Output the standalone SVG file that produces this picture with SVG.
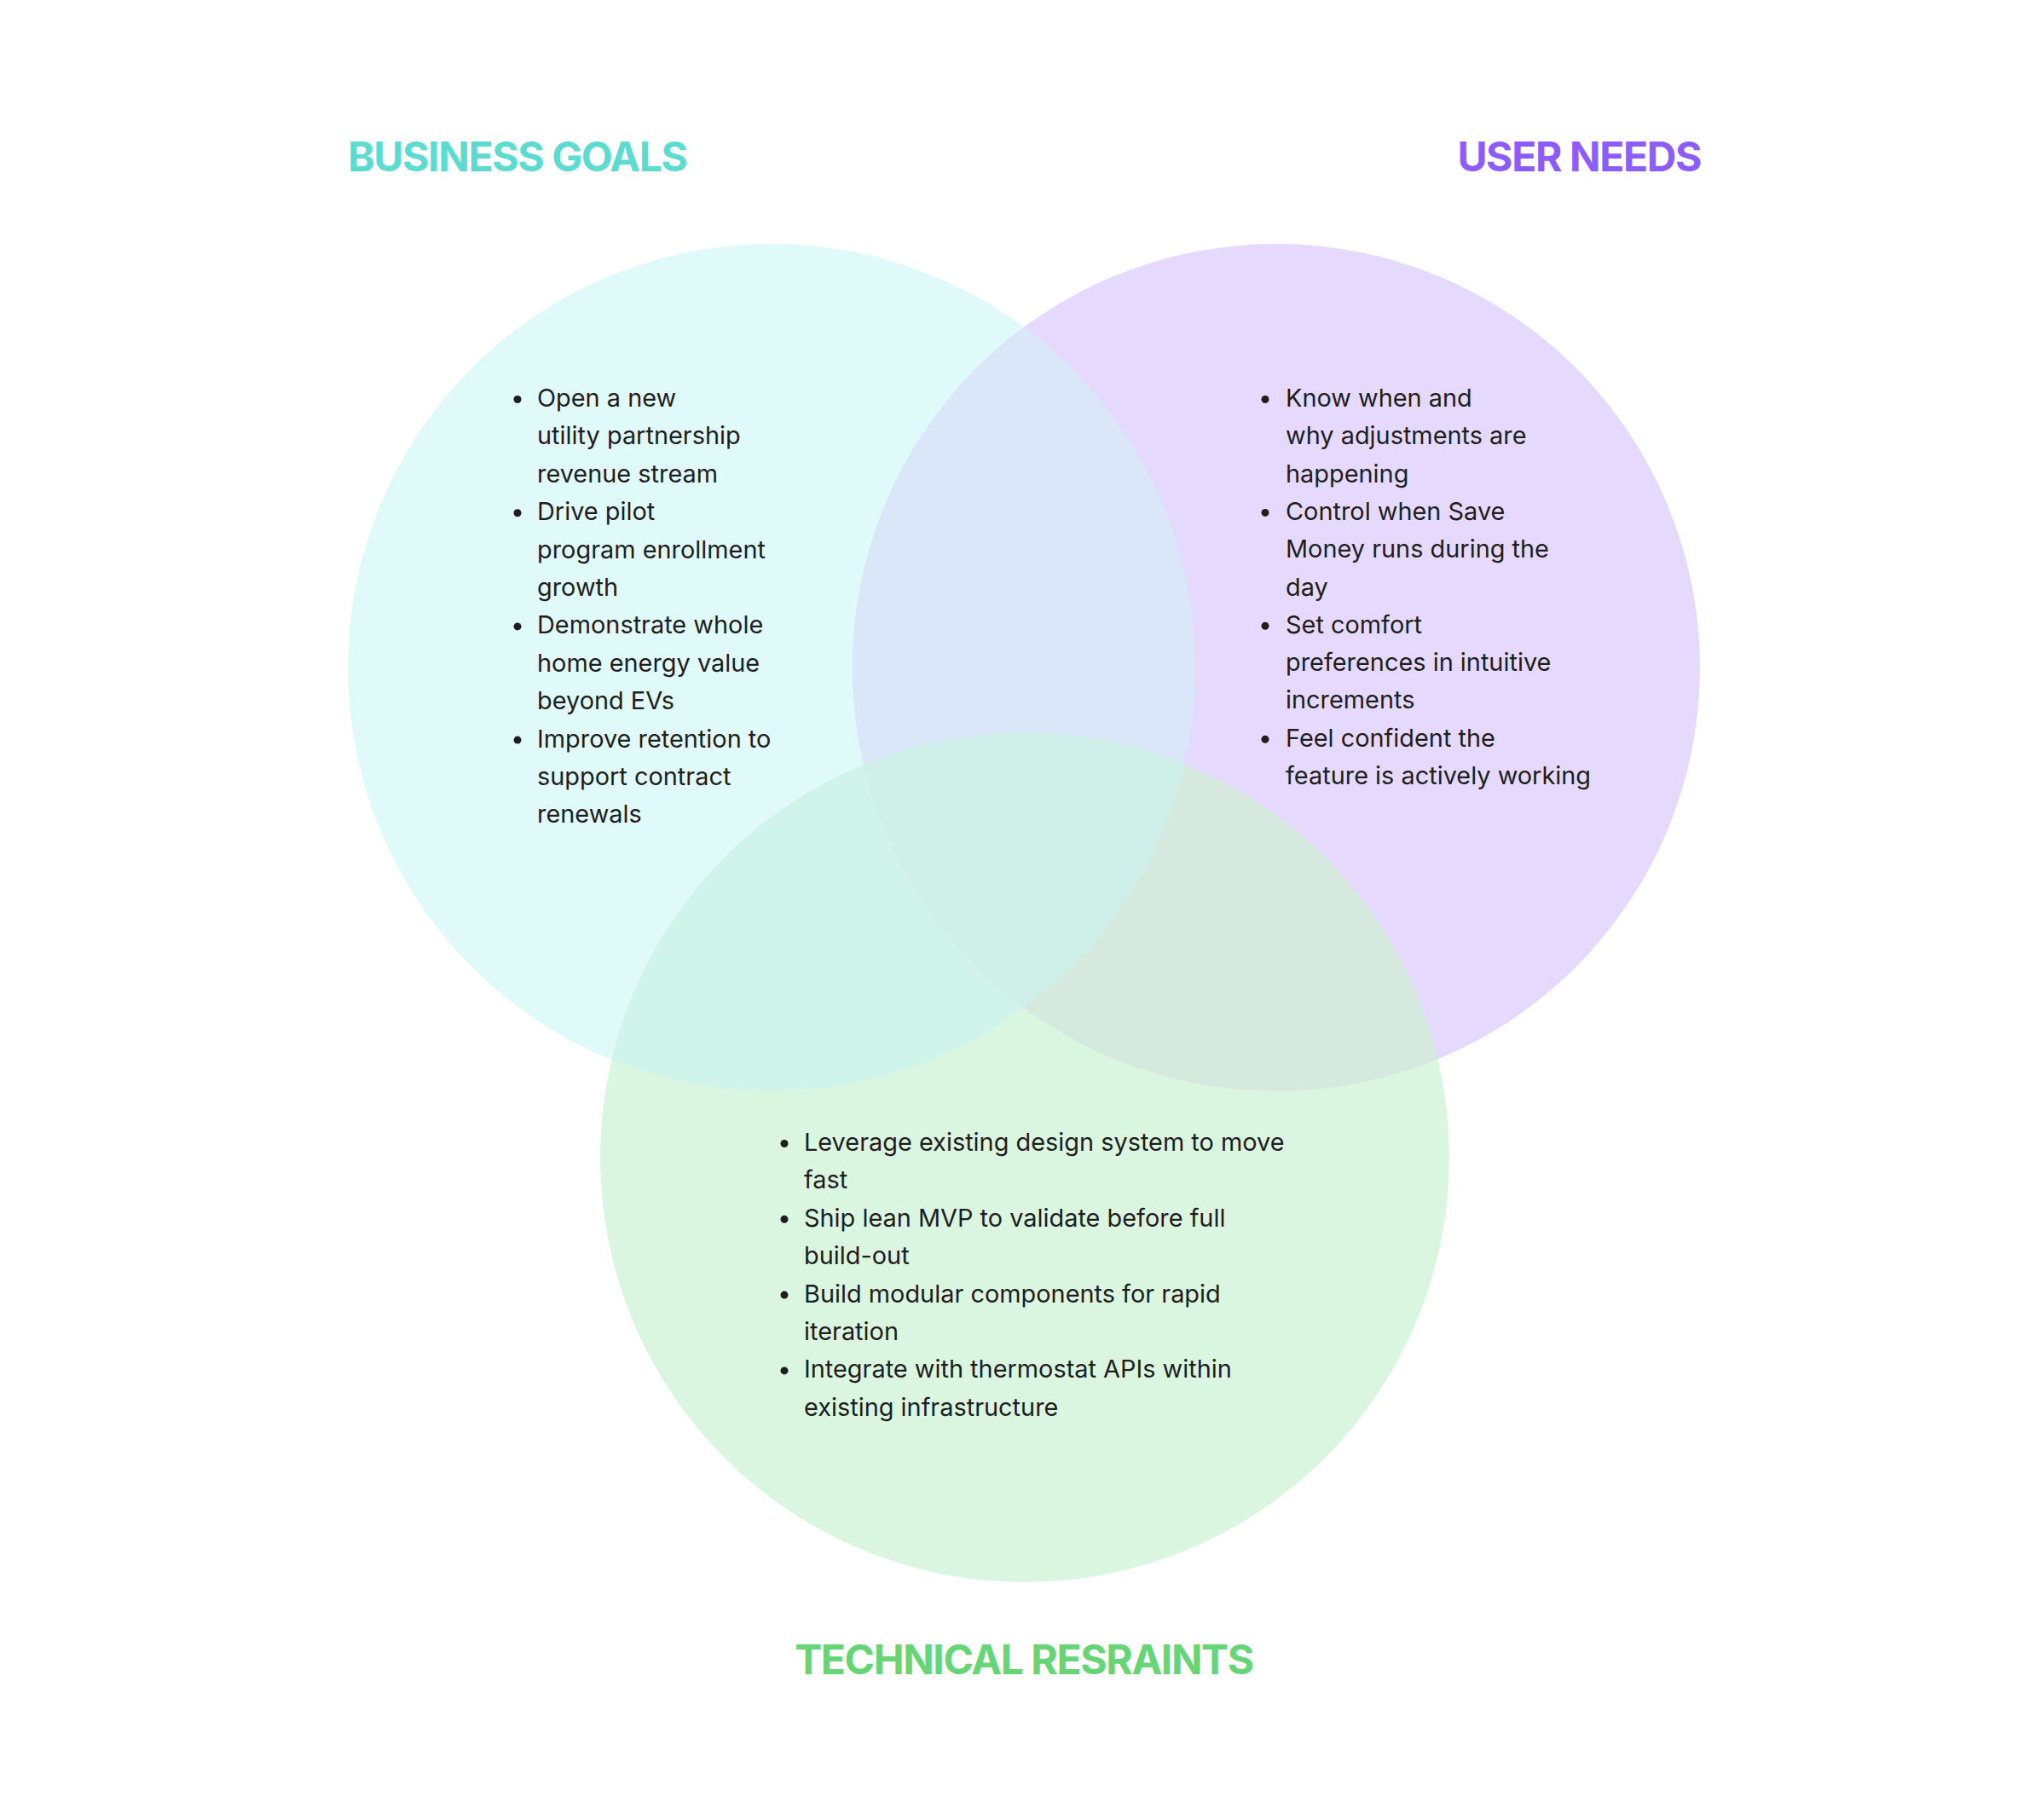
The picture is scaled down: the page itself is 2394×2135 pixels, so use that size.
<svg xmlns="http://www.w3.org/2000/svg" width="2394" height="2135" viewBox="0 0 2394 2135">
<style>
.title{font-family:Inter,"Liberation Sans",sans-serif;font-size:48px;font-weight:700;letter-spacing:-1.4px}
.body{font-family:Inter,"Liberation Sans",sans-serif;font-size:28.9px;fill:#1e1e1e}
.dot{fill:#1e1e1e}
</style>
<defs>
<circle id="cL" cx="905" cy="783" r="497"/>
<circle id="cR" cx="1497" cy="783" r="497"/>
<circle id="cB" cx="1202" cy="1358" r="498"/>
<clipPath id="clipL"><use href="#cL"/></clipPath>
<clipPath id="clipR"><use href="#cR"/></clipPath>
</defs>
<rect width="2394" height="2135" fill="#ffffff"/>
<g id="circles">
<use href="#cL" fill="#e0f9f9"/>
<use href="#cR" fill="#e5dafe"/>
<use href="#cB" fill="#daf6e0"/>
<use href="#cR" fill="#d9e7f9" clip-path="url(#clipL)"/>
<use href="#cB" fill="#d0f4ea" clip-path="url(#clipL)"/>
<use href="#cB" fill="#d5e9de" clip-path="url(#clipR)"/>
<g clip-path="url(#clipR)"><use href="#cB" fill="#cff0e8" clip-path="url(#clipL)"/></g>
</g>
<g id="business-goals">
<text class="title" x="408" y="201" fill="#5cdbd0">BUSINESS GOALS</text>
<circle class="dot" cx="607" cy="468.5" r="4.5"/>
<circle class="dot" cx="607" cy="601.7" r="4.5"/>
<circle class="dot" cx="607" cy="734.9" r="4.5"/>
<circle class="dot" cx="607" cy="868.1" r="4.5"/>
<text class="body" x="630" y="477">
<tspan x="630" dy="0">Open a new</tspan>
<tspan x="630" dy="44.4">utility partnership</tspan>
<tspan x="630" dy="44.4">revenue stream</tspan>
<tspan x="630" dy="44.4">Drive pilot</tspan>
<tspan x="630" dy="44.4">program enrollment</tspan>
<tspan x="630" dy="44.4">growth</tspan>
<tspan x="630" dy="44.4">Demonstrate whole</tspan>
<tspan x="630" dy="44.4">home energy value</tspan>
<tspan x="630" dy="44.4">beyond EVs</tspan>
<tspan x="630" dy="44.4">Improve retention to</tspan>
<tspan x="630" dy="44.4">support contract</tspan>
<tspan x="630" dy="44.4">renewals</tspan>
</text>
</g>
<g id="user-needs">
<text class="title" x="1995" y="201" fill="#8c5cff" text-anchor="end">USER NEEDS</text>
<circle class="dot" cx="1484" cy="468.5" r="4.5"/>
<circle class="dot" cx="1484" cy="601.4" r="4.5"/>
<circle class="dot" cx="1484" cy="734.3" r="4.5"/>
<circle class="dot" cx="1484" cy="867.2" r="4.5"/>
<text class="body" x="1508" y="477">
<tspan x="1508" dy="0">Know when and</tspan>
<tspan x="1508" dy="44.3">why adjustments are</tspan>
<tspan x="1508" dy="44.3">happening</tspan>
<tspan x="1508" dy="44.3">Control when Save</tspan>
<tspan x="1508" dy="44.3">Money runs during the</tspan>
<tspan x="1508" dy="44.3">day</tspan>
<tspan x="1508" dy="44.3">Set comfort</tspan>
<tspan x="1508" dy="44.3">preferences in intuitive</tspan>
<tspan x="1508" dy="44.3">increments</tspan>
<tspan x="1508" dy="44.3">Feel confident the</tspan>
<tspan x="1508" dy="44.3">feature is actively working</tspan>
</text>
</g>
<g id="technical-restraints">
<text class="title" x="1201" y="1964" fill="#66d575" text-anchor="middle">TECHNICAL RESRAINTS</text>
<circle class="dot" cx="920" cy="1341.5" r="4.5"/>
<circle class="dot" cx="920" cy="1430.3" r="4.5"/>
<circle class="dot" cx="920" cy="1519.1" r="4.5"/>
<circle class="dot" cx="920" cy="1607.9" r="4.5"/>
<text class="body" x="943" y="1350">
<tspan x="943" dy="0">Leverage existing design system to move</tspan>
<tspan x="943" dy="44.4">fast</tspan>
<tspan x="943" dy="44.4">Ship lean MVP to validate before full</tspan>
<tspan x="943" dy="44.4">build-out</tspan>
<tspan x="943" dy="44.4">Build modular components for rapid</tspan>
<tspan x="943" dy="44.4">iteration</tspan>
<tspan x="943" dy="44.4">Integrate with thermostat APIs within</tspan>
<tspan x="943" dy="44.4">existing infrastructure</tspan>
</text>
</g>
<g id="connectors"/>
</svg>
